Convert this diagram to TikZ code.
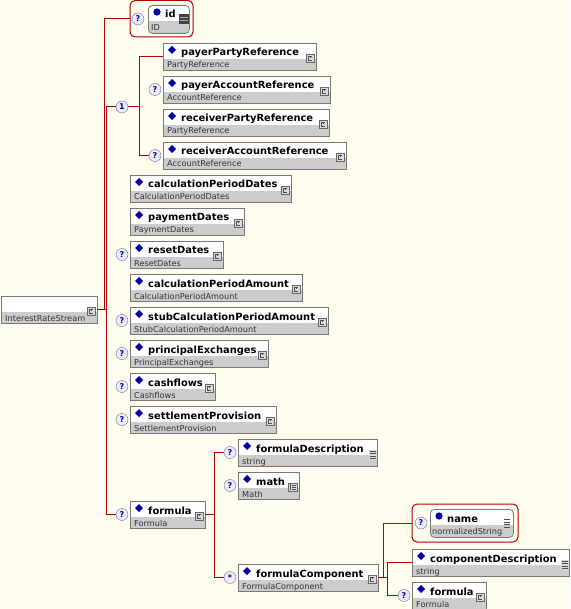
\documentclass[tikz,border=0pt]{standalone}
\usepackage{fontspec}
\setmainfont{DejaVu Sans}
\definecolor{bg}{RGB}{255,253,238}
\definecolor{band}{RGB}{204,204,204}
\definecolor{bord}{RGB}{120,120,120}
\definecolor{conn}{RGB}{176,0,0}
\definecolor{dblue}{RGB}{0,0,170}
\definecolor{qfill}{RGB}{236,236,255}
\definecolor{qbord}{RGB}{110,110,150}
\tikzset{
  ebox/.style={fill=white, inner sep=0, outer sep=0, minimum height=27},
  nametext/.style={font=\bfseries\fontsize{9.9}{12}\selectfont, inner sep=0, text=black},
  typetext/.style={font=\fontsize{8.2}{10}\selectfont, inner sep=0, text=black!80},
  link/.style={draw=conn, line width=1pt},
  occ/.style={circle, draw=qbord, fill=qfill, minimum size=12, inner sep=0, text=dblue,
    font=\bfseries\fontsize{8}{8}\selectfont},
  redframe/.style={draw=conn, line width=1pt, rounded corners=5, fill=bg, inner sep=0, outer sep=0},
  iconbox/.style={fill=band!70, draw=black!60, line width=0.6pt},
  glyph/.style={draw=black!70, line width=0.6pt},
}
\newcommand\cicon[1]{%
  \draw[iconbox] ([shift={(-10,-2.5)}]#1.east) rectangle ++(8,8);
  \draw[glyph] ([shift={(-4.5,-0.5)}]#1.east) -- ++(-3,0) -- ++(0,4) -- ++(3,0);
  \draw[glyph] ([shift={(-5.5,-0.5)}]#1.east) -- ++(0,2);
}
\newcommand\sicon[1]{%
  \fill[band!70] ([shift={(-8,-3)}]#1.east) rectangle ++(8,10);
  \foreach \k in {-1.5,1,3.5,6}{\draw[black!70, line width=0.9pt] ([shift={(-7,\k)}]#1.east) -- ++(6,0);}
}
\newcommand\micon[1]{%
  \draw[iconbox] ([shift={(-11,-2.5)}]#1.east) rectangle ++(9,8);
  \draw[glyph] ([shift={(-8,-1)}]#1.east) -- ++(-1.2,0) -- ++(0,5) -- ++(1.2,0);
  \foreach \k in {-0.5,1.5,3.5}{\draw[glyph] ([shift={(-7,\k)}]#1.east) -- ++(4,0);}
}
\newcommand\xelem[7]{%
  \node[ebox, minimum width=#4, anchor=north west] (#1) at (#2,#3) {};
  \fill[band] ([yshift=-16pt]#1.north west) rectangle (#1.south east);
  \draw[bord, line width=0.8pt] (#1.north west) rectangle (#1.south east);
  \fill[dblue] ([shift={(9,3)}]#1.north west) -- ++(4,4) -- ++(-4,4) -- ++(-4,-4) -- cycle;
  \node[nametext, anchor=base west] (#1-n) at ([shift={(18,13)}]#1.north west) {#5};
  \node[typetext, anchor=base west] (#1-t) at ([shift={(4,25)}]#1.north west) {#6};
  #7{#1}%
}
\begin{document}
\begin{tikzpicture}[x=1pt,y=-1pt]
\fill[bg] (0,0) rectangle (570,609);
\useasboundingbox (0,0) rectangle (570,609);

% red frames for attributes
\node[redframe, minimum width=63, minimum height=36.5, anchor=north west] (idf) at (130,0.5) {};
\node[redframe, minimum width=106, minimum height=38, anchor=north west] (namef) at (412,504) {};

% root
\node[ebox, minimum width=96, anchor=north west] (root) at (1,296) {};
\fill[band] ([yshift=-16pt]root.north west) rectangle (root.south east);
\draw[bord, line width=0.8pt] (root.north west) rectangle (root.south east);
\node[typetext, anchor=base west] (root-t) at ([shift={(4,25)}]root.north west) {InterestRateStream};
\cicon{root}

% id attribute
\begin{scope}
  \clip[rounded corners=4] (148,5) rectangle (189,33);
  \fill[white] (148,5) rectangle (189,33);
  \fill[band] (148,21) rectangle (189,33);
\end{scope}
\node[draw=bord, line width=0.8pt, rounded corners=4, inner sep=0, minimum width=41, minimum height=28, anchor=north west] (idb) at (148,5) {};
\fill[dblue] (157,12) circle (3.6);
\node[nametext, anchor=base west] (idb-n) at (165,18) {id};
\node[typetext, anchor=base west] (idb-t) at (151,30.5) {ID};
\fill[black!75] (179,14) rectangle (188.5,24);
\draw[black!35, line width=0.7pt] (180,17.5) -- (187.5,17.5) (180,20.5) -- (187.5,20.5);

% name attribute
\begin{scope}
  \clip[rounded corners=4] (430,509) rectangle (513,537);
  \fill[white] (430,509) rectangle (513,537);
  \fill[band] (430,525) rectangle (513,537);
\end{scope}
\node[draw=bord, line width=0.8pt, rounded corners=4, inner sep=0, minimum width=83, minimum height=28, anchor=north west] (nameb) at (430,509) {};
\fill[dblue] (439,516) circle (3.6);
\node[nametext, anchor=base west] (nameb-n) at (447,522) {name};
\node[typetext, anchor=base west] (nameb-t) at (432,534.5) {normalizedString};
\foreach \k in {519.5,522,524.5,527}{\draw[black!70, line width=0.9pt] (503.5,\k) -- (509.5,\k);}

% elements
\xelem{ppr}{163}{43}{153}{payerPartyReference}{PartyReference}{\cicon}
\xelem{par}{163}{76}{167}{payerAccountReference}{AccountReference}{\cicon}
\xelem{rpr}{163}{109}{166}{receiverPartyReference}{PartyReference}{\cicon}
\xelem{rar}{163}{142}{183}{receiverAccountReference}{AccountReference}{\cicon}
\xelem{cpd}{130}{175}{161}{calculationPeriodDates}{CalculationPeriodDates}{\cicon}
\xelem{pd}{130}{208}{114}{paymentDates}{PaymentDates}{\cicon}
\xelem{rd}{130}{241}{93}{resetDates}{ResetDates}{\cicon}
\xelem{cpa}{130}{274}{172}{calculationPeriodAmount}{CalculationPeriodAmount}{\cicon}
\xelem{scpa}{130}{307}{198}{stubCalculationPeriodAmount}{StubCalculationPeriodAmount}{\cicon}
\xelem{pe}{130}{340}{138}{principalExchanges}{PrincipalExchanges}{\cicon}
\xelem{cf}{130}{373}{85}{cashflows}{Cashflows}{\cicon}
\xelem{sp}{130}{406}{146}{settlementProvision}{SettlementProvision}{\cicon}
\xelem{formula}{130}{501}{75}{formula}{Formula}{\cicon}
\xelem{fd}{238}{439}{139}{formulaDescription}{string}{\sicon}
\xelem{math}{238}{472}{61}{math}{Math}{\micon}
\xelem{fc}{238}{564}{140}{formulaComponent}{FormulaComponent}{\cicon}
\xelem{cd}{412}{549}{157}{componentDescription}{string}{\sicon}
\xelem{ftwo}{412}{582}{74}{formula}{Formula}{\cicon}

% occurrence markers
\node[occ] (q-id) at (138,19) {?};
\node[occ] (q1) at (122,107) {1};
\node[occ] (q-par) at (155,89.5) {?};
\node[occ] (q-rar) at (155,155.5) {?};
\node[occ] (q-rd) at (122,254.5) {?};
\node[occ] (q-scpa) at (122,320.5) {?};
\node[occ] (q-pe) at (122,353.5) {?};
\node[occ] (q-cf) at (122,386.5) {?};
\node[occ] (q-sp) at (122,419.5) {?};
\node[occ] (q-f) at (122,514.5) {?};
\node[occ] (q-fd) at (230,452.5) {?};
\node[occ] (q-m) at (230,485.5) {?};
\node[occ] (q-fc) at (230,577.5) {*};
\node[occ] (q-name) at (421,523) {?};
\node[occ] (q-f2) at (404,595.5) {?};

% connectors
\draw[link] (root.east) -- ++(7,0) |- (idf.west);
\draw[link] (root.east) -- ++(9.5,0) |- (q1.west);
\draw[link] (root.east) ++(9.5,0) |- (q-f.west);
\draw[link] (q1.east) -- ++(11,0) |- (ppr.west);
\draw[link] (q1.east) ++(11,0) |- (q-rar.west);
\draw[link] (formula.east) -- ++(9,0) |- (q-fd.west);
\draw[link] (formula.east) ++(9,0) |- (q-fc.west);
\draw[link] (fc.east) -- ++(5,0) |- (namef.west);
\draw[link] (fc.east) -- ++(9,0) |- (cd.west);
\draw[link] (fc.east) ++(9,0) |- (q-f2.west);
\end{tikzpicture}
\end{document}
